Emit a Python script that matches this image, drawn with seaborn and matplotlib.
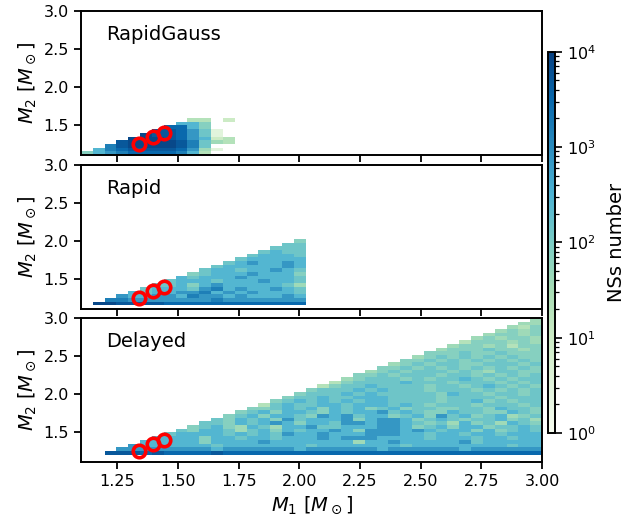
import numpy as np
import pandas as pd
import matplotlib
matplotlib.use('Agg')
import matplotlib.pyplot as plt
import seaborn as sns
from matplotlib.colors import LogNorm

# observed double neutron stars (red circles)
obs_m1 = [1.338, 1.396, 1.440]
obs_m2 = [1.249, 1.341, 1.389]

model_names = ['RapidGauss', 'Rapid', 'Delayed']

level_counts = {'1': 3, '2': 10, '3': 22, '4': 40, '5': 75, '6': 140,
                '7': 280, '8': 700, '9': 1500, 'a': 3000, 'b': 5000, 'c': 8000}

# rows from top to bottom, each row starts on the diagonal (M1 bin == M2 bin)
rapidgauss_rows = [
    '33.2',
    '775',
    'aa75',
    'bba861',
    'cbba861',
    'cccba8723',
    'bccccb9643',
    '9bccccb96..',
    '79abbbba841.',
    '5789aaaa973..',
]
rapidgauss_first = 0

rapid_rows = [
    '5',
    '66',
    '666',
    '6766',
    '67776',
    '67777 7',
    '67877 87',
    '67777 787',
    '67767 7876',
    '56777 87775',
    '76777 87777 6',
    '67776 77787 76',
    '66757 87777 764',
    '67776 89787 7876',
    '76778 89787 87776',
    '87788 79887 87778 7',
    '99888 88889 88888 88',
    'ccbbb baaaa aaaaa aaa',
]
rapid_first = 1

delayed_rows = [
    '4',
    '44',
    '435',
    '4545',
    '45545',
    '45455 4',
    '35554 54',
    '45545 355',
    '45556 5545',
    '55565 56555',
    '45656 56565 5',
    '55656 56565 65',
    '45656 65566 656',
    '55656 56565 6565',
    '45656 66565 46655',
    '55656 66566 56565 6',
    '45666 56566 76565 66',
    '35666 67666 56665 656',
    '35667 66665 66567 6565',
    '56667 67666 56665 65656',
    '56667 67666 66576 65665 6',
    '56676 67776 66656 66656 66',
    '56767 67677 66665 66756 566',
    '36766 77677 76765 66656 6656',
    '55676 75767 56756 65566 57665',
    '56757 76576 77867 65576 65576 5',
    '56757 76587 86775 67586 75674 56',
    '65767 58677 78578 87567 65667 564',
    '66576 78757 76887 88765 64756 4765',
    '56754 76477 86677 78875 67577 56676',
    '65776 46757 67787 58887 87677 57567 6',
    '67777 67676 87787 77888 77677 67767 77',
    '77775 77677 67778 78887 77767 77677 677',
    '77777 57777 87777 77747 78777 77867 7777',
    '87777 77677 77777 67777 77767 77777 77677',
    '88888 88878 88888 78888 88788 88887 88888 8',
    'bbbab aaaab aaaaa aaaaa aaaaa aaaaa aaaaa aa',
]
delayed_first = 2

edges = np.linspace(1.1, 3.0, 40)
centers = (edges[:-1] + edges[1:]) / 2


def to_table(rows, first):
    recs = []
    top = first + len(rows) - 1
    for n, row in enumerate(rows):
        j = top - n
        for k, ch in enumerate(row.replace(' ', '')):
            i = j + k
            if ch == '.' or i >= len(centers):
                continue
            recs.append((centers[i], centers[j], level_counts[ch]))
    return pd.DataFrame(recs, columns=['m1', 'm2', 'count'])


tables = [to_table(rapidgauss_rows, rapidgauss_first),
          to_table(rapid_rows, rapid_first),
          to_table(delayed_rows, delayed_first)]

plt.rcParams['font.family'] = ['DejaVu Sans']
plt.rcParams['axes.linewidth'] = 1.4

fig = plt.figure(figsize=(6.41, 5.19), dpi=100)
left, width = 0.1264, 0.7192
bottoms = [0.7013, 0.4046, 0.1098]
height = 0.2775

axes = []
for k, (name, df) in enumerate(zip(model_names, tables)):
    ax = fig.add_axes([left, bottoms[k], width, height])
    sns.histplot(data=df, x='m1', y='m2', weights='count', bins=[edges, edges],
                 cmap='GnBu', ax=ax)
    ax.collections[0].set_norm(LogNorm(vmin=1, vmax=1e4))
    ax.plot(obs_m1, obs_m2, 'o', mfc='none', mec='red', ms=9, mew=2.6)
    ax.set_xlim(1.1, 3.0)
    ax.set_ylim(1.1, 3.0)
    ax.set_xticks([1.25, 1.5, 1.75, 2.0, 2.25, 2.5, 2.75, 3.0])
    ax.set_yticks([1.5, 2.0, 2.5, 3.0])
    ax.tick_params(labelsize=11.5, length=5, width=1.3)
    ax.set_ylabel(r'$M_2\ [M_\odot]$', fontsize=14)
    ax.text(0.055, 0.835, name, transform=ax.transAxes, fontsize=14, va='center')
    if k < 2:
        ax.set_xlabel('')
        ax.tick_params(labelbottom=False)
    else:
        ax.set_xlabel(r'$M_1\ [M_\odot]$', fontsize=14)
    axes.append(ax)

cax = fig.add_axes([0.855, 0.1657, 0.011, 0.7347])
cbar = fig.colorbar(axes[0].collections[0], cax=cax)
cbar.set_label('NSs number', fontsize=14, labelpad=8)
cbar.ax.tick_params(labelsize=11.5, length=5, width=1.2)
cbar.ax.tick_params(which='minor', length=3, width=0.9)

fig.savefig('out.png', dpi=100)
